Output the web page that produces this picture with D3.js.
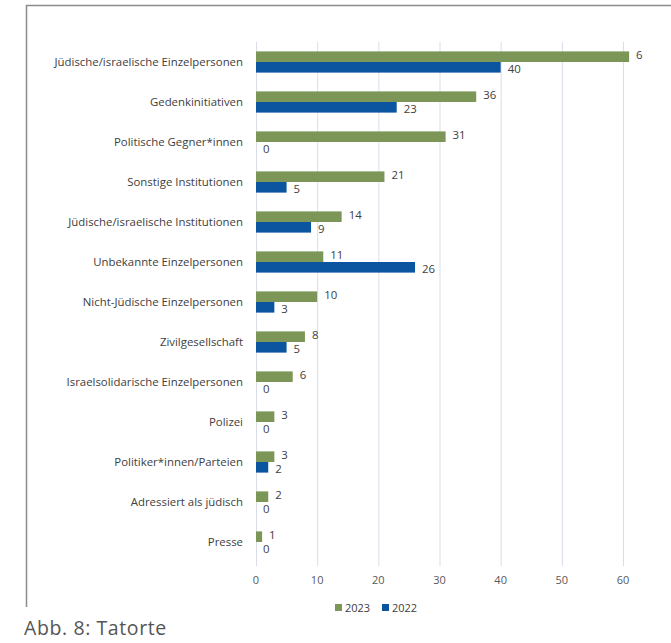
<!DOCTYPE html>
<html>
<head>
<meta charset="utf-8">
<script src="https://cdn.jsdelivr.net/npm/d3@7"></script>
<style>
  body { margin: 0; background: #fff; }
  svg { display: block; }
</style>
</head>
<body>
<div id="chart"></div>
<script>
// Tatorte, 2023 vs 2022
const categories = [
    "Jüdische/israelische Einzelpersonen",
    "Gedenkinitiativen",
    "Politische Gegner*innen",
    "Sonstige Institutionen",
    "Jüdische/israelische Institutionen",
    "Unbekannte Einzelpersonen",
    "Nicht-Jüdische Einzelpersonen",
    "Zivilgesellschaft",
    "Israelsolidarische Einzelpersonen",
    "Polizei",
    "Politiker*innen/Parteien",
    "Adressiert als jüdisch",
    "Presse"
];
const values2023 = [61, 36, 31, 21, 14, 11, 10, 8, 6, 3, 3, 2, 1];
const values2022 = [40, 23, 0, 5, 9, 26, 3, 5, 0, 0, 2, 0, 0];
const seriesNames = ["2023", "2022"];
const xTicks = [0, 10, 20, 30, 40, 50, 60];

const width = 671;
const height = 643;
const colors = { "2023": "#7b9656", "2022": "#0b549f" };
const font = "Open Sans, sans-serif";

const svg = d3.select("#chart")
    .append("svg")
    .attr("width", width)
    .attr("height", height);

// frame (left + top edges only are visible)
svg.append("path")
    .attr("d", "M26.5,607 V5.5 H671")
    .attr("fill", "none")
    .attr("stroke", "#8c8c8c")
    .attr("stroke-width", 1.5);

// clip so the first label gets cut like in the source
svg.append("clipPath").attr("id", "plotclip")
    .append("rect").attr("x", 27).attr("y", 6).attr("width", 616).attr("height", 600);

const x = d3.scaleLinear().domain([0, 60]).range([256, 623]);
const y = d3.scaleBand().domain(categories).range([42, 562]).paddingInner(0.47).paddingOuter(0.235);
const ySub = d3.scaleBand().domain(seriesNames).range([0, y.bandwidth()]);

// gridlines
svg.append("g")
    .selectAll("line")
    .data(xTicks)
    .enter().append("line")
    .attr("x1", d => x(d) + 0.5)
    .attr("x2", d => x(d) + 0.5)
    .attr("y1", 42)
    .attr("y2", 566)
    .attr("stroke", "#d9dde8")
    .attr("stroke-width", 1);

// x tick labels
svg.append("g")
    .selectAll("text")
    .data(xTicks)
    .enter().append("text")
    .attr("x", d => x(d))
    .attr("y", 584)
    .attr("text-anchor", "middle")
    .attr("font-family", font)
    .attr("font-size", "11px")
    .attr("fill", "#595959")
    .text(d => d);

// category labels
svg.append("g")
    .selectAll("text")
    .data(categories)
    .enter().append("text")
    .attr("x", 243)
    .attr("y", d => y(d) + y.bandwidth() / 2 + 4)
    .attr("text-anchor", "end")
    .attr("font-family", font)
    .attr("font-size", "11.4px")
    .attr("fill", "#404040")
    .text(d => d);

const rows = categories.map((c, i) => ({ cat: c, "2023": values2023[i], "2022": values2022[i] }));
const flat = [];
rows.forEach(r => seriesNames.forEach(s => flat.push({ cat: r.cat, series: s, value: r[s] })));

const plot = svg.append("g").attr("clip-path", "url(#plotclip)");

// bars
plot.append("g")
    .selectAll("rect")
    .data(flat)
    .enter().append("rect")
    .attr("x", x(0))
    .attr("y", d => y(d.cat) + ySub(d.series))
    .attr("width", d => x(d.value) - x(0))
    .attr("height", ySub.bandwidth())
    .attr("fill", d => colors[d.series]);

// value labels
plot.append("g")
    .selectAll("text")
    .data(flat)
    .enter().append("text")
    .attr("x", d => x(d.value) + 7)
    .attr("y", d => y(d.cat) + ySub(d.series) + ySub.bandwidth() / 2 + (d.series === "2023" ? 2 : 5.5))
    .attr("font-family", font)
    .attr("font-size", "11.4px")
    .attr("fill", "#404040")
    .text(d => d.value);

// legend
const legend = svg.append("g")
    .selectAll("g")
    .data(seriesNames)
    .enter().append("g")
    .attr("transform", (d, i) => `translate(${335 + i * 47},604)`);

legend.append("rect")
    .attr("width", 7)
    .attr("height", 7)
    .attr("fill", d => colors[d]);

legend.append("text")
    .attr("x", 10)
    .attr("y", 7.5)
    .attr("font-family", font)
    .attr("font-size", "11px")
    .attr("fill", "#404040")
    .text(d => d);

// caption
svg.append("text")
    .attr("x", 24)
    .attr("y", 635)
    .attr("font-family", font)
    .attr("font-size", "19.5px")
    .attr("letter-spacing", "0.6px")
    .attr("fill", "#555")
    .text("Abb. 8: Tatorte");
</script>
</body>
</html>
